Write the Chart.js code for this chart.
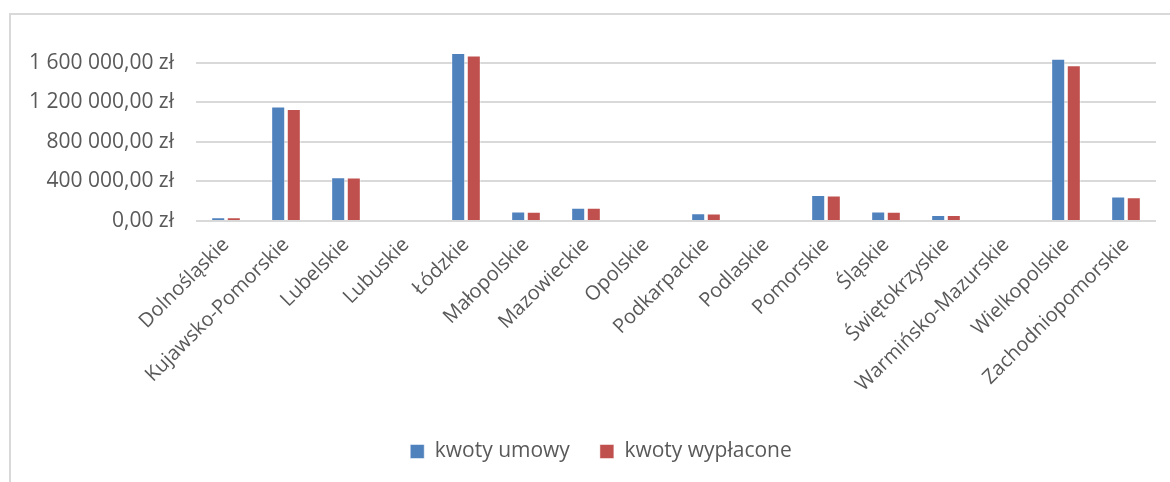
<!DOCTYPE html>
<html>
<head>
<meta charset="utf-8">
<script src="https://cdn.jsdelivr.net/npm/chart.js@4"></script>
<style>
  html, body { margin: 0; padding: 0; background: #ffffff; }
  #wrap { position: relative; width: 1170px; height: 482px; overflow: hidden; }
  #frame { position: absolute; left: 9px; top: 13px; width: 1200px; height: 520px; border: 2px solid #d9d9d9; box-sizing: border-box; }
  canvas { position: absolute; left: 0; top: 0; }
</style>
</head>
<body>
<div id="wrap">
  <div id="frame"></div>
  <canvas id="c" width="1170" height="482"></canvas>
</div>
<script>
const categories = ["Dolnośląskie", "Kujawsko-Pomorskie", "Lubelskie", "Lubuskie", "Łódzkie", "Małopolskie", "Mazowieckie", "Opolskie", "Podkarpackie", "Podlaskie", "Pomorskie", "Śląskie", "Świętokrzyskie", "Warmińsko-Mazurskie", "Wielkopolskie", "Zachodniopomorskie"];
const kwotyUmowy = [38000, 1159000, 443000, 0, 1698000, 95000, 135000, 0, 78000, 0, 264000, 95000, 61000, 0, 1640000, 247000];
const kwotyWyplacone = [37000, 1132000, 440000, 0, 1674000, 93000, 135000, 0, 77000, 0, 257000, 94000, 60000, 0, 1576000, 240000];
const seriesNames = ["kwoty umowy", "kwoty wypłacone"];
const yTicks = [0, 400000, 800000, 1200000, 1600000];

const FONT = "'Open Sans', sans-serif";
const TXT = "#595959";

function fmt(v) {
  const s = Math.round(v).toString().replace(/\B(?=(\d{3})+(?!\d))/g, " ");
  return s + ",00 zł";
}

const legendShift = {
  id: "legendShift",
  beforeDraw(chart) {
    if (chart.legend) { chart.legend.left = 46; }
  }
};

new Chart(document.getElementById("c"), {
  type: "bar",
  data: {
    labels: categories,
    datasets: [
      { label: seriesNames[0], data: kwotyUmowy, backgroundColor: "#4F81BD", borderColor: "rgba(255,255,255,0.5)", borderWidth: 1 },
      { label: seriesNames[1], data: kwotyWyplacone, backgroundColor: "#C0504D", borderColor: "rgba(255,255,255,0.5)", borderWidth: 1 }
    ]
  },
  plugins: [legendShift],
  options: {
    responsive: false,
    animation: false,
    devicePixelRatio: 1,
    layout: { padding: { left: 0, right: 14, top: 43, bottom: 10 } },
    datasets: { bar: { categoryPercentage: 0.52, barPercentage: 0.9 } },
    plugins: {
      tooltip: { enabled: false },
      legend: {
        position: "bottom",
        labels: {
          font: { family: FONT, size: 21 },
          color: TXT,
          boxWidth: 14,
          boxHeight: 14,
          padding: 30
        }
      }
    },
    scales: {
      x: {
        grid: { display: false },
        border: { display: false },
        ticks: {
          font: { family: FONT, size: 20 },
          color: TXT,
          minRotation: 45,
          maxRotation: 45,
          autoSkip: false,
          padding: 4
        },
        afterFit: (s) => { s.height = 190; }
      },
      y: {
        min: 0,
        max: 1800000,
        border: { display: false },
        grid: { color: "#d9d9d9", lineWidth: 2, drawTicks: false },
        afterBuildTicks: (s) => { s.ticks = yTicks.map(v => ({ value: v })); },
        ticks: {
          font: { family: FONT, size: 21 },
          color: TXT,
          padding: 22,
          callback: (v) => fmt(v)
        },
        afterFit: (s) => { s.width = 196; }
      }
    }
  }
});
</script>
</body>
</html>
